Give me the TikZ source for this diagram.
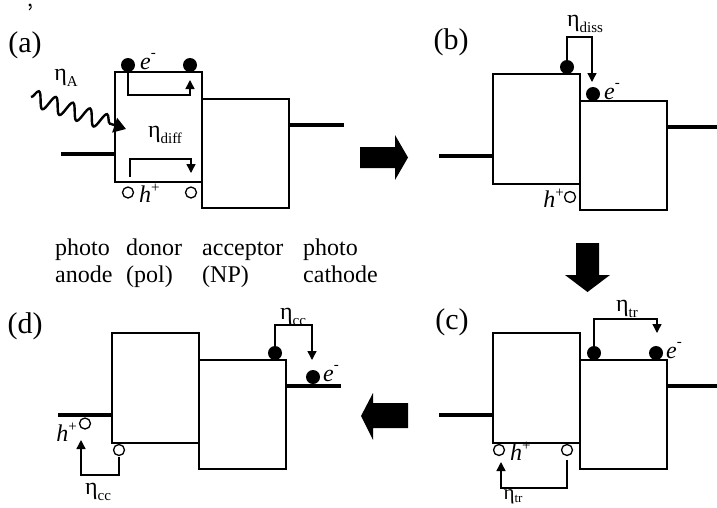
\documentclass[tikz,border=0pt]{standalone}
\usepackage{fontspec}
\setmainfont{Liberation Serif}
\usetikzlibrary{arrows.meta,decorations.pathmorphing}
\newcommand{\etaS}[1]{η\raisebox{-0.26em}{\fontsize{15}{15}\selectfont #1}}
\newcommand{\etaT}[1]{η\raisebox{-0.16em}{\fontsize{13}{13}\selectfont #1}}
\newcommand{\elS}{\textit{e}\raisebox{0.5em}{\fontsize{15}{15}\selectfont -}}
\newcommand{\hoS}{\textit{h}\raisebox{0.42em}{\fontsize{15}{15}\selectfont +}}
\tikzset{
  box/.style={draw, line width=1.4pt, minimum width=87pt, minimum height=110pt, anchor=north west, inner sep=0pt, outer sep=0pt},
  electrode/.style={line width=4.5pt},
  elec/.style={circle, fill=black, inner sep=0pt, minimum size=14pt},
  hole/.style={circle, draw, fill=white, line width=1.3pt, inner sep=0pt, minimum size=11pt},
  flow/.style={line width=1.4pt, -{Triangle[length=9pt,width=9pt]}},
  txt/.style={font=\fontsize{24}{28}\selectfont, inner sep=0pt},
  panel/.style={font=\fontsize{30}{32}\selectfont, inner sep=0pt},
  bigarrow/.style={fill=black},
}
\newcommand{\cellframe}[1]{%
  \node[box] (#1D) at (115,72) {};
  \node[box, minimum height=109pt] (#1A) at (202,99) {};
  \coordinate (#1l) at (61,154);
  \coordinate (#1r) at (344,125);
  \draw[electrode] (#1l) -- (#1l -| #1D.west);
  \draw[electrode] (#1r -| #1A.east) -- (#1r);
}
\begin{document}
\begin{tikzpicture}[x=1pt,y=-1pt]
\useasboundingbox (0,0) rectangle (717,507);
% small mark at the top left of the scan
\fill (30,5) circle (1.6pt);
\draw[line width=1pt] (31.2,5.5) .. controls (31.4,7.5) .. (29.2,10);

% ---------- panel (a)
\begin{scope}
  \cellframe{a}
  \node[panel] (la) at (25,45) {(a)};
  \node[elec] (ae1) at (128,65) {};
  \node[elec] (ae2) at (190,65) {};
  \node[txt, anchor=west] (ael) at (140,62) {\elS};
  \coordinate (af1) at (190,80);
  \draw[flow] (ae1.south) -- (128,95) -| (af1);
  \node[hole] (ah1) at (128,192.5) {};
  \node[hole] (ah2) at (191,192.5) {};
  \node[txt, anchor=west] (ahl) at (139,193) {\hoS};
  \coordinate (ab0) at (130,177);
  \coordinate (ab1) at (191,173);
  \draw[flow] (ab0) -- (130,159) -| (ab1);
  \node[txt] (adiff) at (165,135) {\etaS{diff}};
  \node[txt] (aA) at (66,78) {\etaS{A}};
  \coordinate (wv0) at (31,97);
  \coordinate (wv1) at (126,129);
  \draw[line width=2.4pt, decorate, decoration={snake, segment length=18pt, amplitude=8pt, post length=9pt},
        -{Triangle[length=12pt,width=15pt]}] (wv0) -- (wv1);
\end{scope}

% ---------- panel (b)
\begin{scope}[shift={(378,2)}]
  \cellframe{b}
  \node[panel] (lb) at (73,40) {(b)};
  \node[elec] (be1) at (189,65) {};
  \node[elec] (be2) at (215,92) {};
  \node[txt, anchor=west] (bel) at (226,90) {\elS};
  \node[txt] (bdiss) at (207,22) {\etaS{diss}};
  \coordinate (bf1) at (214,80);
  \draw[flow] (be1.north) -- (189,35) -| (bf1);
  \node[hole] (bh) at (192,195) {};
  \node[txt, anchor=east] (bhl) at (186,196) {\hoS};
\end{scope}

% ---------- panel (c)
\begin{scope}[shift={(378,261)}]
  \cellframe{c}
  \node[panel] (lc) at (74,61) {(c)};
  \node[elec] (ce1) at (216,92) {};
  \node[elec] (ce2) at (278,92) {};
  \node[txt, anchor=west] (cel) at (288,90) {\elS};
  \node[txt] (ctr1) at (249,48) {\etaS{tr}};
  \coordinate (cf1) at (279,72);
  \draw[flow] (ce1.north) -- (216,58) -| (cf1);
  \node[hole] (ch1) at (121,189) {};
  \node[hole] (ch2) at (189,189) {};
  \node[txt, anchor=west] (chl) at (132,190) {\hoS};
  \coordinate (cb0) at (189,199);
  \coordinate (cb1) at (123,201);
  \draw[flow] (cb0) -- (189,227) -| (cb1);
  \node[txt, font=\fontsize{21}{23}\selectfont, anchor=base] (ctr2) at (135,238.5) {\etaT{tr}};
\end{scope}

% ---------- panel (d)
\begin{scope}[shift={(-3,261)}]
  \cellframe{d}
  \node[panel] (ld) at (28,65) {(d)};
  \node[elec] (de1) at (278,92) {};
  \node[elec] (de2) at (316,116) {};
  \node[txt, anchor=west] (del) at (326,113) {\elS};
  \node[txt] (dcc1) at (296,56) {\etaS{cc}};
  \coordinate (df1) at (315,99);
  \draw[flow] (de1.north) -- (278,64) -| (df1);
  \node[hole] (dh1) at (88,162.5) {};
  \node[hole] (dh2) at (122,189) {};
  \node[txt, anchor=east] (dhl) at (80,171) {\hoS};
  \coordinate (db0) at (122,196);
  \coordinate (db1) at (84,179);
  \draw[flow] (db0) -- (122,214) -| (db1);
  \node[txt] (dcc2) at (101,231) {\etaS{cc}};
\end{scope}

% ---------- layer labels
\node[txt, anchor=base west] (t1) at (55,255) {photo};
\node[txt, anchor=base west] (t2) at (55,282) {anode};
\node[txt, anchor=base west] (t3) at (126,255) {donor};
\node[txt, anchor=base west] (t4) at (126,282) {(pol)};
\node[txt, anchor=base west] (t5) at (202,255) {acceptor};
\node[txt, anchor=base west] (t6) at (202,282) {(NP)};
\node[txt, anchor=base west] (t7) at (303,255) {photo};
\node[txt, anchor=base west] (t8) at (303,282) {cathode};

% ---------- big arrows
\fill[bigarrow] (360,147) -- (395,147) -- (395,135) -- (408,157.5) -- (395,180) -- (395,168) -- (360,168) -- cycle;
\fill[bigarrow] (576,243) -- (599,243) -- (599,275) -- (610,275) -- (587.5,292) -- (565,275) -- (576,275) -- cycle;
\fill[bigarrow] (408,403) -- (373,403) -- (373,393) -- (361,416) -- (373,440) -- (373,428) -- (408,428) -- cycle;
\end{tikzpicture}
\end{document}
